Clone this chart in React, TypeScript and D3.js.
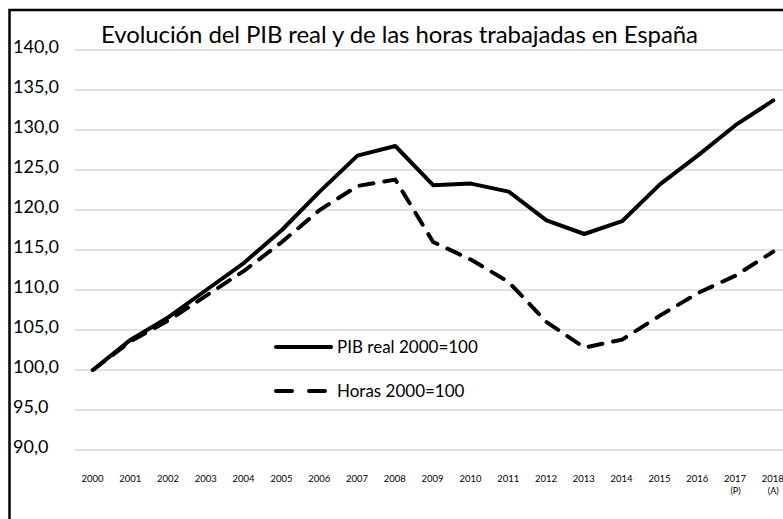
import { useEffect, useRef } from 'react'
import * as d3 from 'd3'

// Índices 2000=100
const years = ['2000', '2001', '2002', '2003', '2004', '2005', '2006', '2007', '2008', '2009',
  '2010', '2011', '2012', '2013', '2014', '2015', '2016', '2017', '2018']
const yearNotes: Record<string, string> = { '2017': '(P)', '2018': '(A)' }
const pibReal = [100.0, 103.8, 106.6, 110.0, 113.4, 117.5, 122.3, 126.8, 128.0, 123.1,
  123.3, 122.3, 118.7, 117.0, 118.6, 123.2, 126.8, 130.6, 133.7]
const horas = [100.0, 103.6, 106.2, 109.3, 112.4, 116.0, 120.0, 123.0, 123.8, 116.0,
  113.8, 111.0, 106.0, 102.8, 103.8, 106.8, 109.6, 111.8, 114.8]
const yTicks = [90, 95, 100, 105, 110, 115, 120, 125, 130, 135, 140]
const title = 'Evolución del PIB real y de las horas trabajadas en España'
const legendItems = [
  { label: 'PIB real 2000=100', dash: null as string | null },
  { label: 'Horas 2000=100', dash: '16,17' },
]

export default function App() {
  const svgRef = useRef<SVGSVGElement>(null)

  useEffect(() => {
    const W = 783, H = 519
    const font = 'Lato, "Open Sans", sans-serif'
    const svg = d3.select(svgRef.current)
    svg.selectAll('*').remove()
    svg.attr('width', W).attr('height', H).style('background', '#fff')

    const x = d3.scaleBand<string>().domain(years).range([74, 74 + 19 * 37.8])
    const cx = (yr: string) => (x(yr) ?? 0) + x.bandwidth() / 2
    const y = d3.scaleLinear().domain([90, 140]).range([450, 50])

    // marco (recortado a la derecha y abajo)
    svg.append('path').attr('d', `M9.5,${H + 5} L9.5,10 L${W + 5},10`)
      .attr('fill', 'none').attr('stroke', '#000').attr('stroke-width', 2.5)

    // rejilla
    yTicks.forEach(v => {
      svg.append('line').attr('x1', 75).attr('x2', W).attr('y1', y(v)).attr('y2', y(v))
        .attr('stroke', '#d9d9d9').attr('stroke-width', 1.3)
      svg.append('text').attr('x', 13).attr('y', y(v) + 3).attr('fill', '#000')
        .attr('font-family', font).attr('font-size', 18).text(d3.format('.1f')(v).replace('.', ','))
    })

    // años
    years.forEach(yr => {
      svg.append('text').attr('x', cx(yr) - 0.5).attr('y', 482).attr('text-anchor', 'middle')
        .attr('font-family', font).attr('font-size', 9.5).attr('fill', '#000').text(yr)
      if (yearNotes[yr]) {
        svg.append('text').attr('x', cx(yr)).attr('y', 494).attr('text-anchor', 'middle')
          .attr('font-family', font).attr('font-size', 9).attr('fill', '#000').text(yearNotes[yr])
      }
    })

    const line = d3.line<number>().x((_, i) => cx(years[i])).y(d => y(d))

    svg.append('path').datum(horas).attr('d', line).attr('fill', 'none').attr('stroke', '#000')
      .attr('stroke-width', 4).attr('stroke-dasharray', '14,11').attr('stroke-linecap', 'round')
    svg.append('path').datum(pibReal).attr('d', line).attr('fill', 'none').attr('stroke', '#000')
      .attr('stroke-width', 4).attr('stroke-linejoin', 'round').attr('stroke-linecap', 'round')

    // leyenda
    legendItems.forEach((it, i) => {
      const ly = 347 + i * 44
      const l = svg.append('line').attr('x1', 276).attr('x2', 331).attr('y1', ly).attr('y2', ly)
        .attr('stroke', '#000').attr('stroke-width', 4).attr('stroke-linecap', 'round')
      if (it.dash) l.attr('stroke-dasharray', it.dash)
      svg.append('text').attr('x', 337).attr('y', ly + 6).attr('font-family', font)
        .attr('font-size', 17).attr('fill', '#000').text(it.label)
    })

    // título
    svg.append('text').attr('x', 101).attr('y', 43).attr('font-family', font)
      .attr('font-size', 24).attr('fill', '#000').attr('textLength', 597).text(title)
  }, [])

  return (
    <div style={{ position: 'absolute', left: 0, top: 0 }}>
      <svg ref={svgRef} style={{ display: 'block' }} />
    </div>
  )
}
